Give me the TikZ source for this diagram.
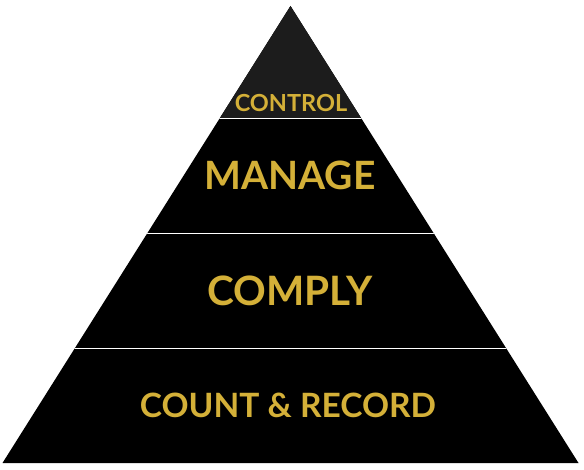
\documentclass[tikz,border=0pt]{standalone}
\usepackage{fontspec}
\setmainfont{Lato}
\usetikzlibrary{positioning}

\definecolor{gold}{RGB}{212,176,56}
\definecolor{topgrey}{RGB}{28,28,28}

\tikzset{
    layertext/.style={text=gold, font=\bfseries, inner sep=0pt, anchor=center},
}

\begin{document}
\begin{tikzpicture}[x=1pt, y=-1pt]
    \useasboundingbox (0,0) rectangle (584,470);

    % Pyramid outline
    \coordinate (apex) at (290.5, 6);
    \coordinate (bl) at (2.5, 463);
    \coordinate (br) at (578.5, 463);

    \begin{scope}
        \clip (apex) -- (bl) -- (br) -- cycle;
        % Layers
        \fill[black] (0,0) rectangle (584,470);
        \fill[topgrey] (0,0) rectangle (584,118.5);
        % Separators
        \foreach \y in {118.5, 233.5, 348.5} {
            \draw[white, line width=1.2pt] (0,\y) -- (584,\y);
        }
    \end{scope}

    % Labels
    \node[layertext, font=\bfseries\fontsize{23.5}{24}\selectfont] (control) at (291, 103.5) {CONTROL};
    \node[layertext, font=\bfseries\fontsize{39}{40}\selectfont] (manage) at (290, 175.5) {MANAGE};
    \node[layertext, font=\bfseries\fontsize{40.5}{41}\selectfont] (comply) at (290, 291) {COMPLY};
    \node[layertext, font=\bfseries\fontsize{33.5}{34}\selectfont] (count) at (288, 405) {COUNT \& RECORD};
\end{tikzpicture}
\end{document}
